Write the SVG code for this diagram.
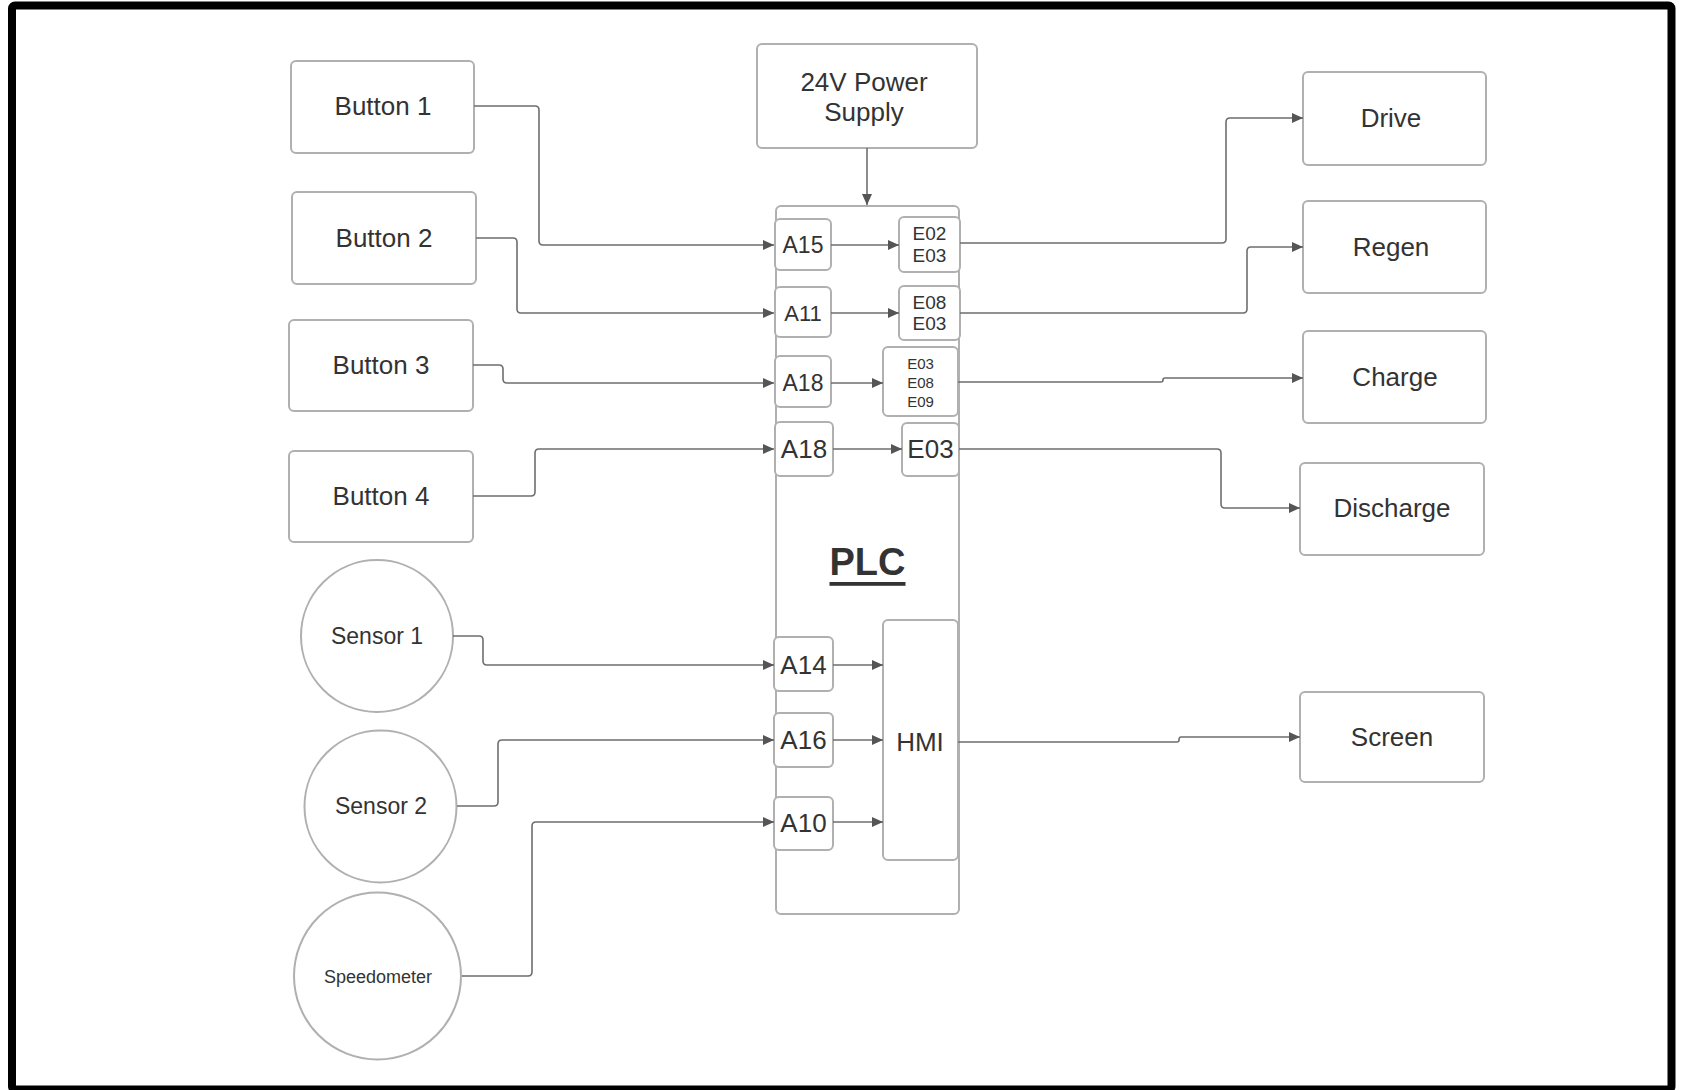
<svg xmlns="http://www.w3.org/2000/svg" width="1681" height="1090" viewBox="0 0 1681 1090">
<style>
.box{fill:#fff;stroke:#b0b0b0;stroke-width:2}
.t{font-family:"Liberation Sans",Arial,sans-serif;fill:#333;text-anchor:middle;dominant-baseline:central}
.c{fill:none;stroke:#6e6e6e;stroke-width:1.6;stroke-linejoin:round}
</style>
<defs>
<marker id="ah" markerUnits="userSpaceOnUse" markerWidth="12" markerHeight="11" refX="11" refY="5" orient="auto">
<path d="M0,0 L11,5 L0,10 z" fill="#555"/>
</marker>
</defs>
<rect x="0" y="0" width="1681" height="1090" fill="#fff"/>
<rect x="12" y="5.5" width="1659.5" height="1084" rx="3" fill="#fff" stroke="#000" stroke-width="8"/>

<g id="button1"><rect class="box" x="291" y="61" width="183" height="92" rx="5"/><text class="t" x="383" y="106" font-size="26">Button 1</text></g>
<g id="button2"><rect class="box" x="292" y="192" width="184" height="92" rx="5"/><text class="t" x="384" y="238" font-size="26">Button 2</text></g>
<g id="button3"><rect class="box" x="289" y="320" width="184" height="91" rx="5"/><text class="t" x="381" y="365" font-size="26">Button 3</text></g>
<g id="button4"><rect class="box" x="289" y="451" width="184" height="91" rx="5"/><text class="t" x="381" y="496" font-size="26">Button 4</text></g>
<g id="sensor1"><circle class="box" cx="377" cy="636" r="76"/><text class="t" x="377" y="636" font-size="23">Sensor 1</text></g>
<g id="sensor2"><circle class="box" cx="380.5" cy="806.5" r="76"/><text class="t" x="381" y="806" font-size="23">Sensor 2</text></g>
<g id="speedometer"><circle class="box" cx="377.5" cy="976" r="83.5"/><text class="t" x="378" y="977" font-size="18">Speedometer</text></g>

<g id="power"><rect class="box" x="757" y="44" width="220" height="104" rx="5"/><text class="t" x="864" y="82" font-size="26">24V Power</text><text class="t" x="864" y="112" font-size="26">Supply</text></g>

<g id="plc">
<rect class="box" x="776" y="206" width="183" height="708" rx="5"/>
<text class="t" x="867.5" y="562" font-size="38" font-weight="bold" fill="#222" style="text-decoration:underline">PLC</text>
</g>
<g id="a15"><rect class="box" x="775" y="219" width="56" height="51" rx="5"/><text class="t" x="803" y="245" font-size="23">A15</text></g>
<g id="e02e03"><rect class="box" x="899" y="217" width="61" height="55" rx="5"/><text class="t" x="929.5" y="233" font-size="19">E02</text><text class="t" x="929.5" y="255" font-size="19">E03</text></g>
<g id="a11"><rect class="box" x="775" y="287" width="56" height="50" rx="5"/><text class="t" x="803" y="313" font-size="22">A11</text></g>
<g id="e08e03"><rect class="box" x="899" y="286" width="61" height="54" rx="5"/><text class="t" x="929.5" y="302" font-size="19">E08</text><text class="t" x="929.5" y="323" font-size="19">E03</text></g>
<g id="a18a"><rect class="box" x="775" y="356" width="56" height="51" rx="5"/><text class="t" x="803" y="383" font-size="23">A18</text></g>
<g id="e03e08e09"><rect class="box" x="883" y="347" width="75" height="69" rx="5"/><text class="t" x="920.5" y="363" font-size="15">E03</text><text class="t" x="920.5" y="382" font-size="15">E08</text><text class="t" x="920.5" y="401" font-size="15">E09</text></g>
<g id="a18b"><rect class="box" x="775" y="422" width="58" height="54" rx="5"/><text class="t" x="804" y="449" font-size="26">A18</text></g>
<g id="e03"><rect class="box" x="902" y="423" width="57" height="53" rx="5"/><text class="t" x="930.5" y="449" font-size="26">E03</text></g>
<g id="a14"><rect class="box" x="774" y="637" width="59" height="54" rx="5"/><text class="t" x="803.5" y="665" font-size="26">A14</text></g>
<g id="a16"><rect class="box" x="774" y="713" width="59" height="54" rx="5"/><text class="t" x="803.5" y="740" font-size="26">A16</text></g>
<g id="a10"><rect class="box" x="774" y="797" width="59" height="53" rx="5"/><text class="t" x="803.5" y="823" font-size="26">A10</text></g>
<g id="hmi"><rect class="box" x="883" y="620" width="75" height="240" rx="5"/><text class="t" x="920" y="742" font-size="26">HMI</text></g>

<g id="drive"><rect class="box" x="1303" y="72" width="183" height="93" rx="5"/><text class="t" x="1391" y="118" font-size="26">Drive</text></g>
<g id="regen"><rect class="box" x="1303" y="201" width="183" height="92" rx="5"/><text class="t" x="1391" y="247" font-size="26">Regen</text></g>
<g id="charge"><rect class="box" x="1303" y="331" width="183" height="92" rx="5"/><text class="t" x="1395" y="377" font-size="26">Charge</text></g>
<g id="discharge"><rect class="box" x="1300" y="463" width="184" height="92" rx="5"/><text class="t" x="1392" y="508" font-size="26">Discharge</text></g>
<g id="screen"><rect class="box" x="1300" y="692" width="184" height="90" rx="5"/><text class="t" x="1392" y="737" font-size="26">Screen</text></g>

<g id="connectors">
<path class="c" marker-end="url(#ah)" d="M474,106 H535 Q539,106 539,110 V241 Q539,245 543,245 H774"/>
<path class="c" marker-end="url(#ah)" d="M476,238 H513 Q517,238 517,242 V309 Q517,313 521,313 H774"/>
<path class="c" marker-end="url(#ah)" d="M473,365 H499 Q503,365 503,369 V379 Q503,383 507,383 H774"/>
<path class="c" marker-end="url(#ah)" d="M473,496 H531 Q535,496 535,492 V453 Q535,449 539,449 H774"/>
<path class="c" marker-end="url(#ah)" d="M453,636 H479 Q483,636 483,640 V661 Q483,665 487,665 H774"/>
<path class="c" marker-end="url(#ah)" d="M457,806 H494 Q498,806 498,802 V744 Q498,740 502,740 H774"/>
<path class="c" marker-end="url(#ah)" d="M462,976 H528 Q532,976 532,972 V826 Q532,822 536,822 H774"/>
<path class="c" marker-end="url(#ah)" d="M867,148 V205"/>
<path class="c" marker-end="url(#ah)" d="M831,245 H899"/>
<path class="c" marker-end="url(#ah)" d="M831,313 H899"/>
<path class="c" marker-end="url(#ah)" d="M831,383 H883"/>
<path class="c" marker-end="url(#ah)" d="M833,449 H902"/>
<path class="c" marker-end="url(#ah)" d="M833,665 H883"/>
<path class="c" marker-end="url(#ah)" d="M833,740 H883"/>
<path class="c" marker-end="url(#ah)" d="M833,822 H883"/>
<path class="c" marker-end="url(#ah)" d="M960,243 H1222 Q1226,243 1226,239 V122 Q1226,118 1230,118 H1303"/>
<path class="c" marker-end="url(#ah)" d="M960,313 H1243 Q1247,313 1247,309 V251 Q1247,247 1251,247 H1303"/>
<path class="c" marker-end="url(#ah)" d="M958,382 H1161 Q1163,382 1163,380 Q1163,378 1165,378 H1303"/>
<path class="c" marker-end="url(#ah)" d="M959,449 H1217 Q1221,449 1221,453 V504 Q1221,508 1225,508 H1300"/>
<path class="c" marker-end="url(#ah)" d="M958,742 H1177 Q1179,742 1179,740 Q1179,737 1181,737 H1300"/>
</g>
</svg>
